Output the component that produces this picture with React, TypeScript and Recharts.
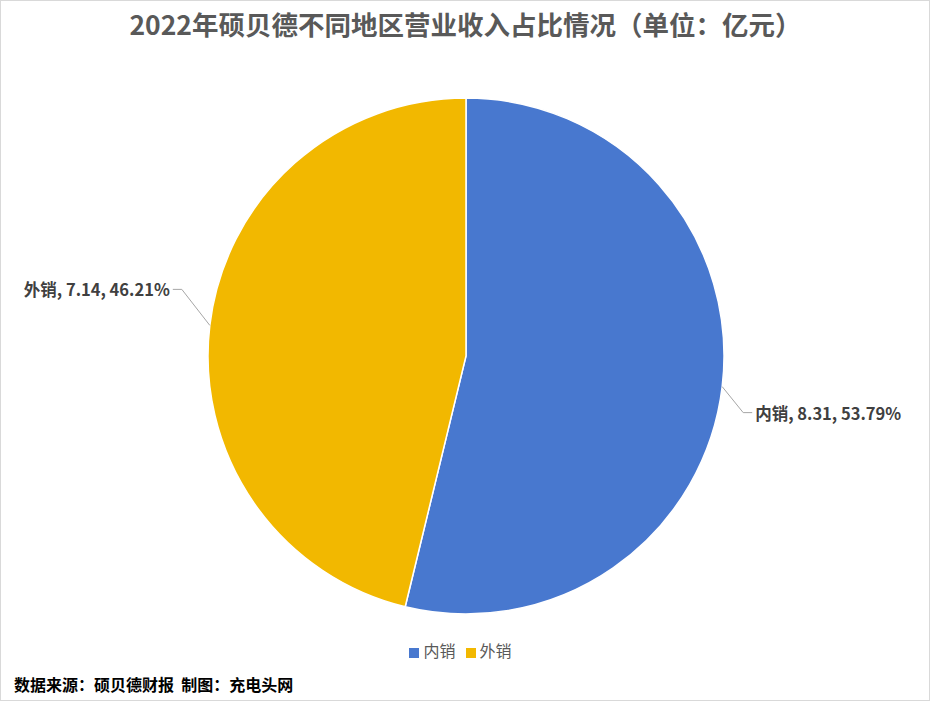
import { PieChart, Pie, Cell, Legend } from "recharts";

const regions = ["内销", "外销"];
const revenue = [8.31, 7.14];
const colors = ["#4878CF", "#F2B800"];

const data = regions.map((name, i) => ({ name, value: revenue[i] }));

const RADIAN = Math.PI / 180;
// elbow offsets from the slice edge, per slice (as drawn in the reference)
const elbow = [
  { dx: 21, dy: 26 },
  { dx: -28, dy: -36 },
];

function renderLabel(props: any) {
  const { cx, cy, midAngle, outerRadius, index, name, value, percent } = props;
  const sx = cx + outerRadius * Math.cos(-midAngle * RADIAN);
  const sy = cy + outerRadius * Math.sin(-midAngle * RADIAN);
  const ex = sx + elbow[index].dx;
  const ey = sy + elbow[index].dy;
  const right = elbow[index].dx > 0;
  const hx = ex + (right ? 9 : -9);
  const tx = hx + (right ? 3 : -3);
  return (
    <g>
      <polyline
        points={`${sx},${sy} ${ex},${ey} ${hx},${ey}`}
        fill="none"
        stroke="#A6A6A6"
        strokeWidth={1}
      />
      <text
        x={tx}
        y={ey}
        textAnchor={right ? "start" : "end"}
        dominantBaseline="central"
        fill="#404040"
        fontSize={16.5}
        fontWeight="bold"
      >
        {`${name}, ${value.toFixed(2)}, ${(percent * 100).toFixed(2)}%`}
      </text>
    </g>
  );
}

export default function App() {
  return (
    <div
      style={{
        position: "absolute",
        left: 0,
        top: 0,
        width: 930,
        height: 701,
        boxSizing: "border-box",
        border: "1px solid #D9D9D9",
        background: "#fff",
        fontFamily: "'Noto Sans CJK SC', sans-serif",
      }}
    >
      <div
        style={{
          position: "absolute",
          left: 0,
          top: 5,
          width: 929,
          textAlign: "center",
          fontSize: 26.5,
          fontWeight: "bold",
          color: "#595959",
          lineHeight: "36px",
        }}
      >
        2022年硕贝德不同地区营业收入占比情况（单位：亿元）
      </div>
      <div style={{ position: "absolute", left: -1, top: -1 }}>
        <PieChart width={931} height={702} margin={{ top: 0, right: 0, bottom: 0, left: 0 }}>
          <Pie
            data={data}
            dataKey="value"
            nameKey="name"
            cx={466}
            cy={356}
            outerRadius={258}
            startAngle={90}
            endAngle={-270}
            stroke="#fff"
            strokeWidth={1.5}
            label={renderLabel}
            labelLine={false}
            isAnimationActive={false}
          >
            {data.map((d, i) => (
              <Cell key={d.name} fill={colors[i]} />
            ))}
          </Pie>
          <Legend
            iconType="square"
            iconSize={10}
            verticalAlign="bottom"
            wrapperStyle={{ top: 638, bottom: "auto", fontSize: 16 }}
            formatter={(v: string) => <span style={{ color: "#595959" }}>{v}</span>}
          />
        </PieChart>
      </div>
      <div
        style={{
          position: "absolute",
          left: 13,
          top: 671,
          fontSize: 16,
          fontWeight: "bold",
          color: "#000",
          lineHeight: "24px",
        }}
      >
        数据来源：硕贝德财报&nbsp;&nbsp;制图：充电头网
      </div>
    </div>
  );
}
